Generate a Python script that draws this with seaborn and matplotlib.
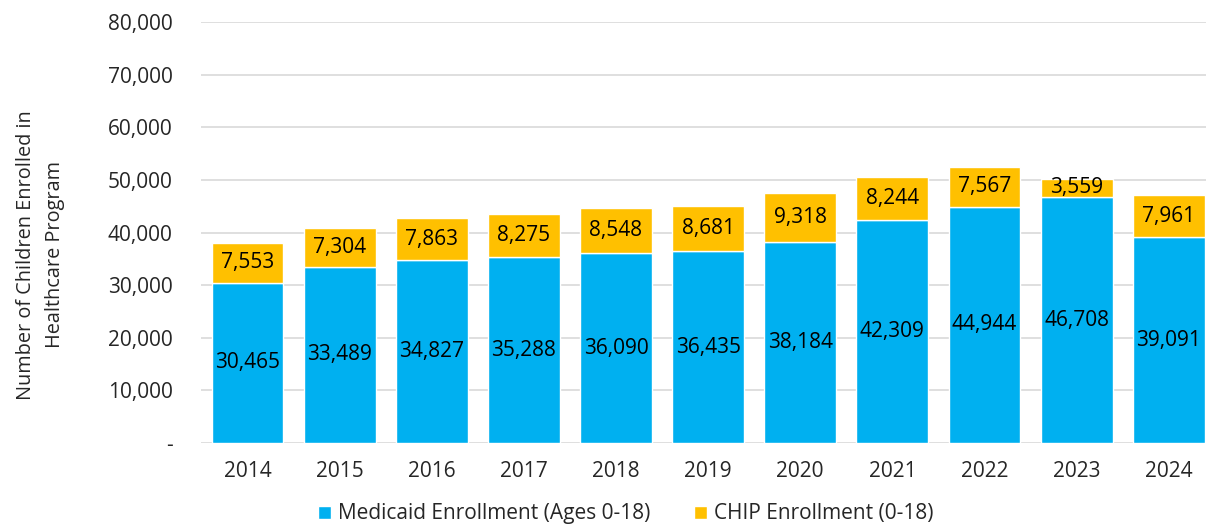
import matplotlib
matplotlib.use("Agg")
import matplotlib.pyplot as plt
import matplotlib.ticker as mticker
from matplotlib.patches import Patch
import pandas as pd
import seaborn as sns

# Data
years = ["2014", "2015", "2016", "2017", "2018", "2019", "2020", "2021", "2022", "2023", "2024"]
medicaid = [30465, 33489, 34827, 35288, 36090, 36435, 38184, 42309, 44944, 46708, 39091]
chip = [7553, 7304, 7863, 8275, 8548, 8681, 9318, 8244, 7567, 3559, 7961]
y_ticks = [0, 10000, 20000, 30000, 40000, 50000, 60000, 70000, 80000]

df = pd.DataFrame({"year": years, "medicaid": medicaid, "chip": chip})

blue = "#00B0F0"
gold = "#FFC000"

sns.set_theme(style="white")
plt.rcParams["font.family"] = ["Open Sans", "DejaVu Sans"]
plt.rcParams["text.color"] = "#262626"

fig = plt.figure(figsize=(12.08, 5.25), dpi=100)
ax = fig.add_axes([0.166, 0.156, 0.832, 0.802])

sns.barplot(data=df, x="year", y="medicaid", color=blue, saturation=1,
            width=0.78, ax=ax, zorder=2)
sns.barplot(data=df, x="year", y="chip", color=gold, saturation=1,
            width=0.78, bottom=df["medicaid"].values, ax=ax, zorder=2)

# value labels in the middle of each segment
ax.bar_label(ax.containers[0], labels=[f"{v:,}" for v in medicaid],
             label_type="center", fontsize=15, color="black")
ax.bar_label(ax.containers[1], labels=[f"{v:,}" for v in chip],
             label_type="center", fontsize=15, color="black")

ax.set_ylim(0, 80000)
ax.set_xlim(-0.51, 10.4)
ax.set_yticks(y_ticks)
ax.yaxis.set_major_formatter(mticker.FuncFormatter(lambda v, p: "-" if v == 0 else f"{int(v):,}"))
ax.grid(axis="y", color="#D9D9D9", linewidth=1.2, zorder=0)
ax.set_axisbelow(True)
for s in ax.spines.values():
    s.set_visible(False)
ax.tick_params(axis="y", length=0, pad=20, labelsize=15, labelcolor="#262626")
ax.tick_params(axis="x", length=0, pad=13, labelsize=15, labelcolor="#262626")
ax.set_xlabel("")
ax.set_ylabel("Number of Children Enrolled in\nHealthcare Program", fontsize=14.3,
              color="#262626", linespacing=1.6)
ax.yaxis.set_label_coords(-0.135, 0.447)

handles = [Patch(facecolor=blue, label="Medicaid Enrollment (Ages 0-18)"),
           Patch(facecolor=gold, label="CHIP Enrollment (0-18)")]
fig.legend(handles=handles, loc="center", bbox_to_anchor=(0.518, 0.021), ncol=2,
           frameon=False, fontsize=15, handlelength=0.6, handleheight=0.6,
           handletextpad=0.35, columnspacing=2.1)

fig.savefig("out.png", dpi=100)
